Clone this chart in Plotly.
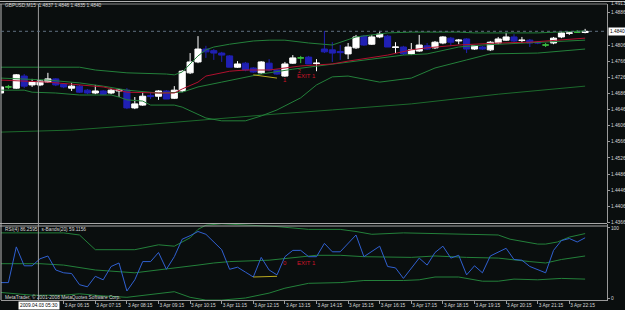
import plotly.graph_objects as go

# ---------------- data ----------------
bars = list(range(75))  # 15-minute bars, 3 Apr 2009 04:15 ... 22:45
open_ = [1.4687, 1.4702, 1.4699, 1.4729, 1.4707, 1.4707, 1.4714, 1.4722, 1.4709, 1.4699,
         1.4704, 1.4694, 1.4687, 1.4692, 1.4687, 1.4692, 1.4694, 1.4650, 1.4657, 1.4681,
         1.4679, 1.4692, 1.4674, 1.4692, 1.4737, 1.4764, 1.4796, 1.4792, 1.4786, 1.4779,
         1.4751, 1.4761, 1.4749, 1.4737, 1.4761, 1.4744, 1.4729, 1.4761, 1.4774, 1.4776,
         1.4760, 1.4796, 1.4794, 1.4790, 1.4784, 1.4799, 1.4828, 1.4808, 1.4826, 1.4828,
         1.4800, 1.4801, 1.4784, 1.4791, 1.4804, 1.4799, 1.4811, 1.4823, 1.4816, 1.4821,
         1.4796, 1.4801, 1.4794, 1.4811, 1.4818, 1.4826, 1.4817, 1.4818, 1.4813, 1.4806,
         1.4811, 1.4826, 1.4835, 1.4838, 1.4837]
high = [1.4704, 1.4707, 1.4734, 1.4734, 1.4722, 1.4719, 1.4737, 1.4724, 1.4712, 1.4712,
        1.4707, 1.4697, 1.4707, 1.4694, 1.4697, 1.4697, 1.4699, 1.4677, 1.4689, 1.4689,
        1.4694, 1.4694, 1.4704, 1.4744, 1.4786, 1.4828, 1.4804, 1.4796, 1.4789, 1.4781,
        1.4766, 1.4764, 1.4751, 1.4766, 1.4771, 1.4746, 1.4764, 1.4781, 1.4779, 1.4779,
        1.4771, 1.4841, 1.4813, 1.4806, 1.4811, 1.4831, 1.4831, 1.4831, 1.4841, 1.4831,
        1.4813, 1.4804, 1.4811, 1.4831, 1.4811, 1.4816, 1.4828, 1.4826, 1.4821, 1.4823,
        1.4806, 1.4804, 1.4816, 1.4826, 1.4836, 1.4833, 1.4826, 1.4821, 1.4816, 1.4811,
        1.4826, 1.4838, 1.4838, 1.4843, 1.4846]
low = [1.4684, 1.4697, 1.4697, 1.4699, 1.4702, 1.4704, 1.4712, 1.4704, 1.4699, 1.4692,
       1.4687, 1.4684, 1.4684, 1.4682, 1.4684, 1.4677, 1.4647, 1.4647, 1.4655, 1.4672,
       1.4670, 1.4672, 1.4672, 1.4689, 1.4734, 1.4761, 1.4774, 1.4769, 1.4764, 1.4751,
       1.4749, 1.4741, 1.4737, 1.4734, 1.4741, 1.4732, 1.4727, 1.4759, 1.4761, 1.4759,
       1.4741, 1.4786, 1.4764, 1.4769, 1.4771, 1.4796, 1.4804, 1.4806, 1.4823, 1.4801,
       1.4786, 1.4781, 1.4781, 1.4789, 1.4794, 1.4796, 1.4808, 1.4804, 1.4808, 1.4786,
       1.4794, 1.4794, 1.4791, 1.4808, 1.4816, 1.4813, 1.4811, 1.4801, 1.4808, 1.4801,
       1.4808, 1.4823, 1.4831, 1.4836, 1.4835]
close = [1.4702, 1.4702, 1.4732, 1.4704, 1.4714, 1.4717, 1.4722, 1.4707, 1.4702, 1.4704,
         1.4689, 1.4687, 1.4692, 1.4684, 1.4694, 1.4694, 1.4650, 1.4660, 1.4679, 1.4678,
         1.4692, 1.4672, 1.4694, 1.4741, 1.4764, 1.4796, 1.4789, 1.4786, 1.4781, 1.4751,
         1.4759, 1.4744, 1.4739, 1.4764, 1.4744, 1.4734, 1.4759, 1.4774, 1.4774, 1.4759,
         1.4761, 1.4789, 1.4786, 1.4787, 1.4801, 1.4826, 1.4806, 1.4826, 1.4833, 1.4801,
         1.4801, 1.4784, 1.4794, 1.4806, 1.4796, 1.4813, 1.4826, 1.4813, 1.4818, 1.4796,
         1.4804, 1.4796, 1.4813, 1.4821, 1.4826, 1.4816, 1.4818, 1.4811, 1.4811, 1.4806,
         1.4823, 1.4836, 1.4836, 1.4838, 1.4840]
green_doji = [1, 38, 69, 73]

# Bollinger-type bands on price (bar index, price)
bb_up_x = [0, 10, 12, 16, 21, 22, 23, 24, 25, 26, 27, 29, 32, 34, 36, 39, 42, 45, 49, 52, 58, 60, 68, 74]
bb_up_y = [1.4751, 1.4751, 1.4744, 1.4737, 1.4734, 1.4732, 1.4739, 1.4759, 1.4779, 1.4794, 1.4801, 1.4808,
           1.4816, 1.4818, 1.4818, 1.4811, 1.4806, 1.4826, 1.4836, 1.4838, 1.4838, 1.4836, 1.4836, 1.4841]
bb_mid_x = [0, 6, 10, 13, 16, 20, 23, 25, 28, 31, 33, 37, 42, 46, 51, 54, 58, 61, 66, 74]
bb_mid_y = [1.4724, 1.4719, 1.4712, 1.4704, 1.4694, 1.4687, 1.4689, 1.4702, 1.4714, 1.4727,
            1.4734, 1.4746, 1.4759, 1.4769, 1.4781, 1.4784, 1.4801, 1.4806, 1.4811, 1.4818]
bb_low_x = [0, 3, 4, 7, 10, 14, 15, 16, 18, 19, 22, 23, 26, 28, 31, 33, 35, 38, 40, 42, 44, 46, 48, 52,
            55, 59, 62, 68, 74]
bb_low_y = [1.4694, 1.4694, 1.4689, 1.4687, 1.4682, 1.4682, 1.4677, 1.4670, 1.4667, 1.4657, 1.4657,
            1.4652, 1.4625, 1.4618, 1.4618, 1.4630, 1.4645, 1.4675, 1.4707, 1.4727, 1.4729, 1.4722,
            1.4714, 1.4724, 1.4749, 1.4769, 1.4784, 1.4786, 1.4796]
ma_red_x = [0, 6, 13, 16, 20, 22, 23, 25, 26, 29, 31, 34, 38, 42, 44, 47, 49, 52, 54, 58, 63, 67, 71, 74]
ma_red_y = [1.4719, 1.4714, 1.4702, 1.4689, 1.4687, 1.4687, 1.4697, 1.4714, 1.4729, 1.4741, 1.4744,
            1.4744, 1.4754, 1.4759, 1.4766, 1.4774, 1.4781, 1.4794, 1.4799, 1.4806, 1.4811, 1.4813,
            1.4818, 1.4823]
ma_long_x = [0, 9, 18, 27, 35, 42, 52, 63, 74]
ma_long_y = [1.4590, 1.4595, 1.4608, 1.4623, 1.4635, 1.4645, 1.4660, 1.4684, 1.4704]
trend_x = [32, 35]
trend_y = [1.4732, 1.4724]

# RSI(4) and its bands
rsi = [22, 22, 73, 46, 46, 56, 60, 40, 36, 35, 19, 16, 31, 26, 45, 50, 10, 26, 52, 52,
       65, 41, 59, 84, 89, 95, 91, 80, 69, 41, 44, 37, 30, 58, 40, 33, 59, 68, 68, 59,
       59, 78, 66, 66, 78, 90, 59, 66, 74, 45, 43, 28, 42, 57, 47, 65, 74, 57, 61, 33,
       46, 36, 60, 65, 71, 55, 54, 45, 40, 36, 68, 82, 85, 80, 86]
rb_up_x = [0, 8, 10, 12, 17, 20, 22, 24, 25, 26, 28, 31, 35, 39, 43, 45, 47, 51, 55, 59, 63, 64.5, 68, 69, 70.5, 72, 74]
rb_up_y = [93, 93, 90, 69, 69, 76, 74, 86, 98, 104, 106, 104, 102, 98, 98, 95, 91, 93, 92, 90, 90, 84, 77, 77, 80, 87, 92]
rb_mid_x = [0, 5, 8, 12, 17, 21, 25, 27, 29, 34, 38, 40, 43, 46, 52, 55, 59, 63, 67, 69, 71, 74]
rb_mid_y = [49, 49, 47, 40, 36, 41, 47, 50, 52, 54, 59, 61, 61, 59, 58, 60, 58, 57, 52, 50, 55, 60]
rb_low_x = [0, 4, 8, 10, 13, 16, 22, 24, 26, 28, 31, 34, 36, 39, 43, 46, 51, 53, 55, 58, 61, 63, 65, 68, 71, 74]
rb_low_y = [8, 4, 4, 6, 3, 1, 9, 1, -3, -3, 0, 7, 14, 21, 22, 25, 25, 26, 30, 30, 24, 24, 27, 26, 28, 27]
rsi_trend_x = [32, 35]
rsi_trend_y = [30, 31]

time_ticks = [0, 8, 12, 16, 20, 24, 28, 32, 36, 40, 44, 48, 52, 56, 60, 64, 68, 72]
time_labels = ["3 Apr 2009", "3 Apr 06:15", "3 Apr 07:15", "3 Apr 08:15", "3 Apr 09:15", "3 Apr 10:15",
               "3 Apr 11:15", "3 Apr 12:15", "3 Apr 13:15", "3 Apr 14:15", "3 Apr 15:15", "3 Apr 16:15",
               "3 Apr 17:15", "3 Apr 18:15", "3 Apr 19:15", "3 Apr 20:15", "3 Apr 21:15", "3 Apr 22:15"]
price_ticks = [1.4366, 1.4406, 1.4446, 1.4486, 1.4526, 1.4566, 1.4606, 1.4646, 1.4686, 1.4726,
               1.4766, 1.4806, 1.4886]
rsi_ticks = [0, 100]

# ---------------- styling ----------------
W, H = 625, 310
BG = "#0a0e0e"
FG = "#d8d8d8"
GRID = "#9a9a9a"
BLUE = "#2020b4"
GREEN = "#23803a"
FONT = "Liberation Sans"
FS = 4.8


def fx(px):
    return px / W


def fy(px):
    return 1 - px / H


fig = go.Figure()

main_idx = [i for i in bars if i not in green_doji]
fig.add_trace(go.Candlestick(
    x=[bars[i] for i in main_idx], open=[open_[i] for i in main_idx], high=[high[i] for i in main_idx],
    low=[low[i] for i in main_idx], close=[close[i] for i in main_idx],
    increasing=dict(line=dict(color="#ffffff", width=1), fillcolor="#ffffff"),
    decreasing=dict(line=dict(color=BLUE, width=1), fillcolor=BLUE),
    whiskerwidth=0, hoverinfo="skip", xaxis="x", yaxis="y", showlegend=False))
fig.add_trace(go.Candlestick(
    x=[bars[i] for i in green_doji], open=[open_[i] for i in green_doji], high=[high[i] for i in green_doji],
    low=[low[i] for i in green_doji], close=[close[i] for i in green_doji],
    increasing=dict(line=dict(color="#3cc040", width=1), fillcolor="#3cc040"),
    decreasing=dict(line=dict(color="#3cc040", width=1), fillcolor="#3cc040"),
    whiskerwidth=0, hoverinfo="skip", xaxis="x", yaxis="y", showlegend=False))


def line(xs, ys, color, yaxis="y", width=1):
    fig.add_trace(go.Scatter(x=xs, y=ys, mode="lines", line=dict(color=color, width=width),
                             hoverinfo="skip", showlegend=False, xaxis="x", yaxis=yaxis))


line(ma_long_x, ma_long_y, "#1c6a2c")
line(bb_up_x, bb_up_y, GREEN)
line(bb_low_x, bb_low_y, GREEN)
line(bb_mid_x, bb_mid_y, GREEN)
line(ma_red_x, ma_red_y, "#b0102e")
line(trend_x, trend_y, "#b8a820")

line(rb_up_x, rb_up_y, GREEN, "y2")
line(rb_mid_x, rb_mid_y, GREEN, "y2")
line(rb_low_x, rb_low_y, GREEN, "y2")
line(bars, rsi, "#3060d0", "y2")
line(rsi_trend_x, rsi_trend_y, "#b8a820", "y2")

# price-panel range from the pixel scale of the picture
p_top, p_bot = 1.49077, 1.43646
r_top, r_bot = 105.7, -2.86

fig.update_layout(
    width=W, height=H, margin=dict(l=0, r=0, t=0, b=0),
    paper_bgcolor=BG, plot_bgcolor=BG,
    font=dict(family=FONT, size=FS, color=FG),
    showlegend=False, boxgap=0.12, boxgroupgap=0.12,
    xaxis=dict(domain=[fx(1), fx(607)], range=[0.063, 76.77], anchor="y2",
               showgrid=False, zeroline=False, showline=True, linecolor=GRID, linewidth=1,
               ticks="outside", ticklen=3, tickcolor=GRID, tickvals=time_ticks, ticktext=time_labels,
               tickangle=0, automargin=False,
               ticklabelposition="outside right", tickfont=dict(size=FS, color=FG, family=FONT),
               rangeslider=dict(visible=False), fixedrange=True),
    yaxis=dict(domain=[fy(223), fy(4)], range=[p_bot, p_top], anchor="x", side="right",
               showgrid=False, zeroline=False, showline=True, linecolor=GRID, linewidth=1,
               ticks="outside", ticklen=2, tickcolor=GRID, tickvals=price_ticks, automargin=False,
               ticktext=["%.4f" % v for v in price_ticks], tickfont=dict(size=FS, color=FG, family=FONT)),
    yaxis2=dict(domain=[fy(300), fy(224)], range=[r_bot, r_top], anchor="x", side="right",
                showgrid=False, zeroline=False, showline=True, linecolor=GRID, linewidth=1,
                ticks="outside", ticklen=2, tickcolor=GRID, tickvals=rsi_ticks, automargin=False,
                ticktext=[str(v) for v in rsi_ticks], tickfont=dict(size=FS, color=FG, family=FONT)),
)

shapes = [
    dict(type="line", xref="paper", yref="paper", x0=fx(0), x1=fx(625), y0=fy(1.5), y1=fy(1.5),
         line=dict(color="#b0b0b0", width=1)),
    dict(type="line", xref="paper", yref="paper", x0=fx(0), x1=fx(607), y0=fy(4), y1=fy(4),
         line=dict(color="#8a8a8a", width=1)),
    dict(type="line", xref="paper", yref="paper", x0=fx(0), x1=fx(607), y0=fy(223.5), y1=fy(223.5),
         line=dict(color="#a8a8a8", width=1)),
    dict(type="line", xref="paper", yref="paper", x0=fx(0), x1=fx(607), y0=fy(226), y1=fy(226),
         line=dict(color="#a8a8a8", width=1)),
    dict(type="line", xref="paper", yref="paper", x0=fx(1), x1=fx(1), y0=fy(4), y1=fy(300),
         line=dict(color="#b8b8b8", width=1)),
    # crosshair
    dict(type="line", xref="x", yref="paper", x0=4.8, x1=4.8, y0=fy(4), y1=fy(300),
         line=dict(color="#9a9a9a", width=1)),
    dict(type="line", xref="paper", yref="y", x0=fx(1), x1=fx(607), y0=1.4840, y1=1.4840,
         line=dict(color="#5e7080", width=1, dash="dot")),
]
fig.update_layout(shapes=shapes)

ann = [
    dict(text="GBPUSD,M15  1.4837 1.4846 1.4835 1.4840", xref="paper", yref="paper", x=fx(3), y=fy(5.5),
         xanchor="left", yanchor="middle", showarrow=False, font=dict(size=FS, color=FG)),
    dict(text="RSI(4) 86.2595   s-Bands(20) 59.1156", xref="paper", yref="paper", x=fx(3), y=fy(229),
         xanchor="left", yanchor="middle", showarrow=False, font=dict(size=FS, color=FG)),
    dict(text="MetaTrader, © 2001-2008 MetaQuotes Software Corp.", xref="paper", yref="paper", x=fx(3),
         y=fy(296.5), xanchor="left", yanchor="middle", showarrow=False, font=dict(size=FS, color=FG)),
    dict(text="1.4913", xref="paper", yref="paper", x=fx(609), y=fy(3.5), xanchor="left", yanchor="middle",
         showarrow=False, font=dict(size=FS, color=FG)),
    dict(text="1.4840", xref="paper", yref="y", x=fx(607.5), y=1.4840, xanchor="left", yanchor="middle",
         showarrow=False, bgcolor="#ffffff", borderpad=1, font=dict(size=FS, color="#000000")),
    dict(text="2009.04.03 05:30", xref="x", yref="paper", x=4.85, y=fy(305), xanchor="center",
         yanchor="middle", showarrow=False, bgcolor="#ffffff", borderpad=1,
         font=dict(size=FS, color="#000000")),
    dict(text="1", xref="x", yref="y", x=36, y=1.4719, showarrow=False, font=dict(size=6, color="#d0142a")),
    dict(text="2", xref="x", yref="y", x=37.9, y=1.4741, showarrow=False, font=dict(size=5, color="#d0142a")),
    dict(text="EXIT 1", xref="x", yref="y", x=38.7, y=1.4729, showarrow=False,
         font=dict(size=6, color="#d0142a")),
    dict(text="0", xref="x", yref="y2", x=36, y=50, showarrow=False, font=dict(size=6, color="#d0142a")),
    dict(text="EXIT 1", xref="x", yref="y2", x=38.7, y=50, showarrow=False,
         font=dict(size=6, color="#d0142a")),
]
fig.update_layout(annotations=ann)

fig.write_html("out.html", config={"displayModeBar": False})
